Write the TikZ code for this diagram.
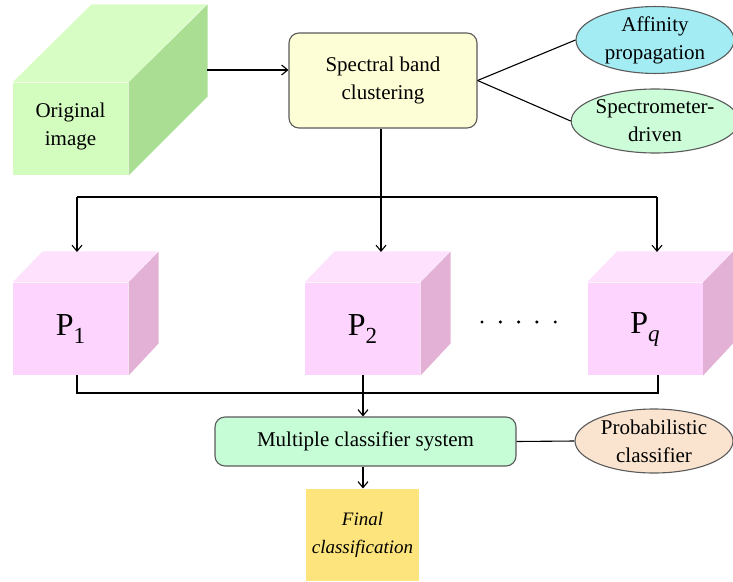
\documentclass[tikz,border=0pt]{standalone}
\usepackage{fontspec}
\setmainfont{Liberation Serif}
\usetikzlibrary{shapes.geometric,arrows.meta}
\definecolor{greenfront}{HTML}{D3FCBF}
\definecolor{greentop}{HTML}{D7FDC4}
\definecolor{greenside}{HTML}{A9DE93}
\definecolor{pinkfront}{HTML}{FDD4FD}
\definecolor{pinktop}{HTML}{FDE1FD}
\definecolor{pinkside}{HTML}{E4B1D6}
\definecolor{sbcyellow}{HTML}{FDFDD6}
\definecolor{mcsgreen}{HTML}{C6FCD6}
\definecolor{affcyan}{HTML}{A4ECF4}
\definecolor{specgreen}{HTML}{CCFCD8}
\definecolor{probbeige}{HTML}{FAE4D0}
\definecolor{finalyellow}{HTML}{FDE47C}
\definecolor{edgegray}{HTML}{5A5A5A}
\newcommand{\psub}[1]{\raisebox{-8pt}{\fontsize{23}{23}\selectfont #1}}

\begin{document}
\begin{tikzpicture}[x=1pt,y=-1pt,line width=1.1pt,
	font=\fontsize{21}{28}\selectfont,
	arr/.style={-{Straight Barb[length=6pt,width=10pt]}},
	box/.style={draw=edgegray,rounded corners=10pt,align=center,inner sep=0pt},
	oval/.style={ellipse,draw=edgegray,align=center,inner sep=0pt,
		minimum width=158,minimum height=64},
	front/.style={minimum width=115,minimum height=92,inner sep=0pt,align=center}]
	\useasboundingbox (0,0) rectangle (733,581);

	% original image cube
	\node[front,fill=greenfront] (orig) at (70.5,129) {\\[-18pt]Original\\image};
	\fill[greentop] (orig.north west) -- ++(79,-78) -- ++(115,0) -- (orig.north east) -- cycle;
	\fill[greenside] (orig.north east) -- ++(79,-78) -- ++(0,92) -- (orig.south east) -- cycle;

	\node[box,fill=sbcyellow,minimum width=188,minimum height=95] (sbc) at (383,80.5)
		{Spectral band\\clustering};
	\node[oval,fill=affcyan] (aff) at (655,40) {Affinity\\propagation};
	\node[oval,fill=specgreen] (spec) at (655,121) {Spectrometer-\\driven};

	\coordinate (origR) at (207,70);
	\draw[arr] (origR) -- (origR -| sbc.west);
	\draw (sbc.east) -- (aff.west);
	\draw (sbc.east) -- (spec.west);

	% partition cubes
	\foreach \name/\x/\lab in {p1/70.5/1,p2/362.5/2,pq/645/{\itshape q}}{
		\node[front,fill=pinkfront,font=\fontsize{32}{32}\selectfont] (\name) at (\x,329) {P\psub{\lab}};
		\fill[pinktop] (\name.north west) -- ++(30,-31) -- ++(115,0) -- (\name.north east) -- cycle;
		\fill[pinkside] (\name.north east) -- ++(30,-31) -- ++(0,92) -- (\name.south east) -- cycle;
	}
	\foreach \i in {0,...,4}{
		\fill (482+18.3*\i,322) circle (1.7);
	}

	\coordinate (bar) at (381,197);
	\coordinate (p1in) at (77,252);
	\coordinate (p2in) at (381,252);
	\coordinate (pqin) at (657,252);
	\draw (sbc.south -| bar) -- (bar);
	\draw (bar -| p1in) -- (bar -| pqin);
	\foreach \n in {p1in,p2in,pqin}{
		\draw[arr] (bar -| \n) -- (\n);
	}

	\node[box,fill=mcsgreen,minimum width=301,minimum height=49] (mcs) at (365.5,441.5)
		{Multiple classifier system};
	\node[oval,fill=probbeige] (prob) at (654,441) {Probabilistic\\classifier};
	\node[fill=finalyellow,minimum width=113,minimum height=92,inner sep=0pt,align=center,
		font=\fontsize{19}{28}\selectfont\itshape] (final) at (362.5,535) {Final\\classification};

	\coordinate (join) at (363,393);
	\coordinate (p1out) at (77,375);
	\coordinate (p2out) at (363,375);
	\coordinate (pqout) at (658,375);
	\draw (p1out) -- (p1out |- join) -- (pqout |- join) -- (pqout);
	\draw (p2out) -- (join);
	\draw[arr] (join) -- (join |- mcs.north);
	\draw[arr] (mcs.south -| join) -- (final.north -| join);
	\draw (mcs.east) -- (prob.west);
\end{tikzpicture}
\end{document}
